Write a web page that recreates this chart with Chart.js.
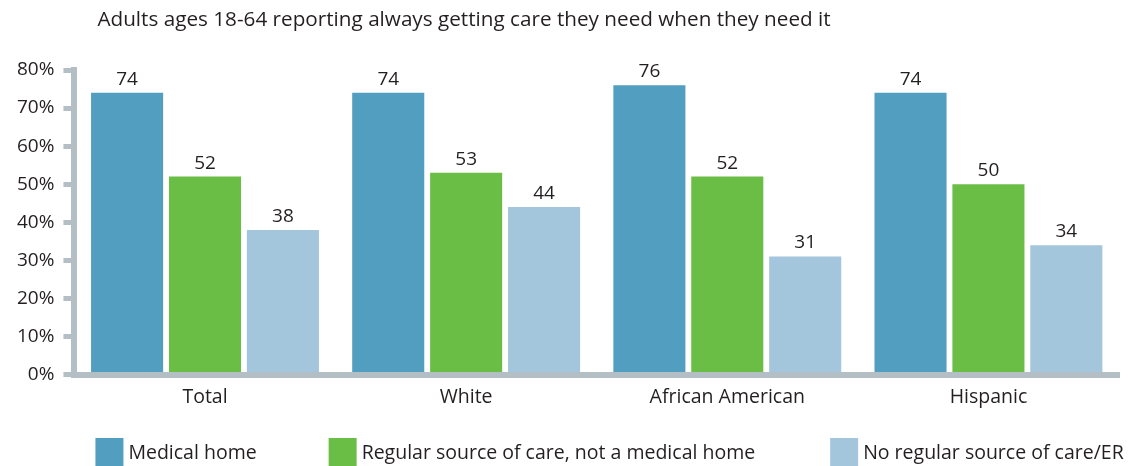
<!DOCTYPE html>
<html>
<head>
<meta charset="utf-8">
<script src="https://cdn.jsdelivr.net/npm/chart.js@4.4.0/dist/chart.umd.min.js"></script>
<style>
  html, body { margin: 0; padding: 0; background: #fff; }
  #wrap { width: 1135px; height: 466px; }
</style>
</head>
<body>
<div id="wrap"><canvas id="chart"></canvas></div>
<script>
const titleText = "Adults ages 18-64 reporting always getting care they need when they need it";
const categories = ["Total", "White", "African American", "Hispanic"];
const seriesNames = ["Medical home", "Regular source of care, not a medical home", "No regular source of care/ER"];
const medicalHome = [74, 74, 76, 74];
const regularSource = [52, 53, 52, 50];
const noRegularSource = [38, 44, 31, 34];
const yTicks = [0, 10, 20, 30, 40, 50, 60, 70, 80];

const colors = ["#529ec0", "#6bbe45", "#a3c6dc"];
const axisGray = "#b3bec5";
const textColor = "#231f20";
const fontFamily = "'Open Sans', Lato, sans-serif";

// value labels above bars
const valueLabels = {
  id: "valueLabels",
  afterDatasetsDraw(chart) {
    const ctx = chart.ctx;
    ctx.save();
    ctx.font = "19px " + fontFamily;
    ctx.fillStyle = textColor;
    ctx.textAlign = "center";
    ctx.textBaseline = "bottom";
    chart.data.datasets.forEach((ds, i) => {
      chart.getDatasetMeta(i).data.forEach((bar, j) => {
        ctx.fillText(ds.data[j], bar.x, bar.y - 4);
      });
    });
    ctx.restore();
  }
};

// title and legend drawn by hand
const titleAndLegend = {
  id: "titleAndLegend",
  afterDraw(chart) {
    const ctx = chart.ctx;
    const left = chart.chartArea.left;
    ctx.save();
    ctx.fillStyle = textColor;
    ctx.font = "20.7px " + fontFamily;
    ctx.textBaseline = "middle";
    ctx.textAlign = "left";
    ctx.fillText(titleText, left + 23, 20);

    ctx.font = "19.5px " + fontFamily;
    let x = left + 21;
    const top = 438, box = 28;
    const gaps = [72, 75];
    chart.data.datasets.forEach((ds, i) => {
      ctx.fillStyle = ds.backgroundColor;
      ctx.fillRect(x, top, box, box);
      ctx.fillStyle = textColor;
      ctx.fillText(ds.label, x + box + 5, top + box / 2 + 1);
      x += box + 5 + ctx.measureText(ds.label).width + (gaps[i] || 0);
    });
    ctx.restore();
  }
};

new Chart(document.getElementById("chart"), {
  type: "bar",
  data: {
    labels: categories,
    datasets: [
      { label: seriesNames[0], data: medicalHome, backgroundColor: colors[0] },
      { label: seriesNames[1], data: regularSource, backgroundColor: colors[1] },
      { label: seriesNames[2], data: noRegularSource, backgroundColor: colors[2] }
    ]
  },
  options: {
    responsive: true,
    maintainAspectRatio: false,
    animation: false,
    layout: { padding: { top: 70, bottom: 46, left: 8, right: 16 } },
    datasets: { bar: { categoryPercentage: 0.895, barPercentage: 0.925 } },
    plugins: {
      legend: { display: false },
      title: { display: false },
      tooltip: { enabled: false }
    },
    scales: {
      x: {
        grid: { display: false, drawTicks: false },
        border: { display: true, width: 6, color: axisGray },
        ticks: {
          color: textColor,
          font: { family: fontFamily, size: 19.5 },
          padding: 11
        }
      },
      y: {
        min: 0,
        max: 80,
        afterBuildTicks(axis) {
          axis.ticks = yTicks.map((v) => ({ value: v }));
        },
        grid: {
          drawOnChartArea: false,
          color: axisGray,
          lineWidth: 5,
          tickLength: 11
        },
        border: { display: true, width: 6, color: axisGray },
        ticks: {
          color: textColor,
          font: { family: fontFamily, size: 19 },
          padding: 9,
          callback: (v) => v + "%"
        }
      }
    }
  },
  plugins: [valueLabels, titleAndLegend]
});
</script>
</body>
</html>
